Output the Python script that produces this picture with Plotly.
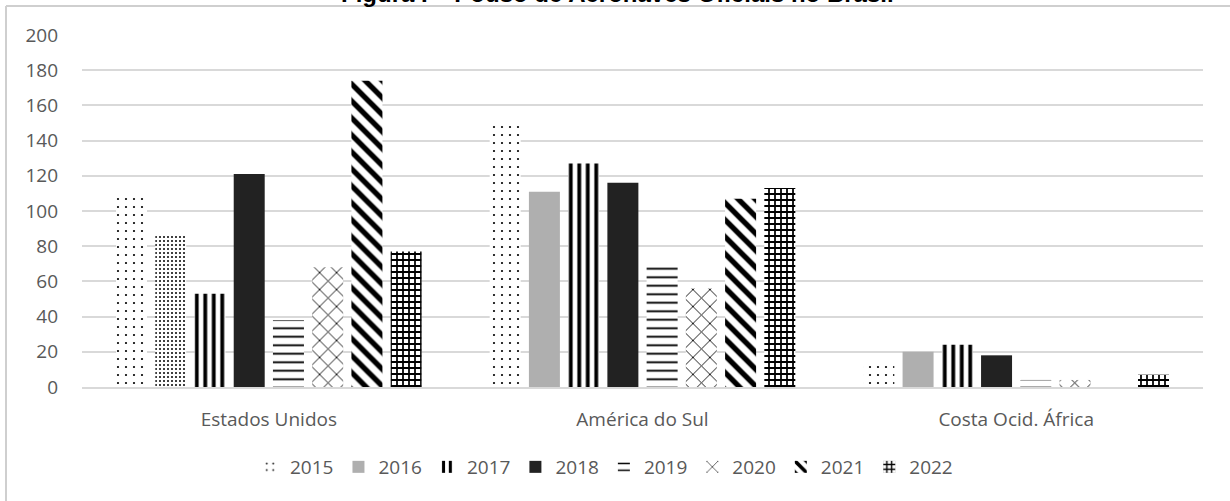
import plotly.graph_objects as go

categories = ["Estados Unidos", "América do Sul", "Costa Ocid. África"]
years = ["2015", "2016", "2017", "2018", "2019", "2020", "2021", "2022"]
v2015 = [110, 151, 15]
v2016 = [87, 111, 20]
v2017 = [53, 127, 24]
v2018 = [121, 116, 18]
v2019 = [38, 71, 4]
v2020 = [68, 56, 4]
v2021 = [174, 107, 0]
v2022 = [77, 113, 7]
values = [v2015, v2016, v2017, v2018, v2019, v2020, v2021, v2022]
# in the reference, the 2016 bar of "Estados Unidos" is dotted, the others solid grey
dotted_2016 = [True, False, False]

title_text = "Figura I – Pouso de Aeronaves Oficiais no Brasil"
y_ticks = [0, 20, 40, 60, 80, 100, 120, 140, 160, 180, 200]


def pat(shape, size, solidity, bg="white"):
    return dict(shape=shape, size=size, solidity=solidity, fgcolor="#000000",
                fgopacity=1, bgcolor=bg, fillmode="replace")


styles = {
    "2015": dict(color="white", pattern=pat(".", 8, 0.06)),
    "2016": dict(color="#afafaf", pattern=dict(shape="")),
    "2017": dict(color="white", pattern=pat("|", 8.5, 0.45)),
    "2018": dict(color="#222222", pattern=dict(shape="")),
    "2019": dict(color="white", pattern=pat("-", 8.5, 0.22)),
    "2020": dict(color="white", pattern=pat("x", 12, 0.14)),
    "2021": dict(color="white", pattern=pat("\\", 12, 0.45)),
    "2022": dict(color="white", pattern=pat("+", 6, 0.5)),
}

W, H = 1230, 501
ml, mr, mt, mb = 82, 27, 35, 114
pw, ph = W - ml - mr, H - mt - mb

fig = go.Figure()
for yr, vals in zip(years, values):
    st = styles[yr]
    if yr == "2016":
        fig.add_trace(go.Bar(
            name=yr, x=categories, y=[v if not d else None for v, d in zip(vals, dotted_2016)],
            offsetgroup=yr, legendgroup=yr,
            marker=dict(color=st["color"], pattern=st["pattern"], line=dict(width=0)),
        ))
        fig.add_trace(go.Bar(
            name=yr, x=categories, y=[v if d else None for v, d in zip(vals, dotted_2016)],
            offsetgroup=yr, legendgroup=yr, showlegend=False,
            marker=dict(color="white", pattern=pat(".", 4, 0.2), line=dict(width=0)),
        ))
    else:
        fig.add_trace(go.Bar(
            name=yr, x=categories, y=vals, offsetgroup=yr,
            marker=dict(color=st["color"], pattern=st["pattern"], line=dict(width=0)),
        ))

font_family = "Open Sans, Lato, sans-serif"
txt_color = "#595959"

fx = (6 - ml) / pw
fy = (H - mb - 6) / ph

fig.update_layout(
    width=W, height=H,
    margin=dict(l=ml, r=mr, t=mt, b=mb),
    paper_bgcolor="white", plot_bgcolor="white",
    barmode="group", bargap=0.16, bargroupgap=0.21,
    font=dict(family=font_family, size=19, color=txt_color),
    showlegend=True,
    legend=dict(orientation="h", x=(604 - ml) / pw, xanchor="center", y=(0 - (467 - (H - mb))) / ph,
                yanchor="middle", itemwidth=30, font=dict(size=19, color=txt_color),
                traceorder="normal", bgcolor="rgba(0,0,0,0)"),
    xaxis=dict(showgrid=False, showline=True, linecolor="#d9d9d9", linewidth=1.5,
               ticks="", tickfont=dict(size=19, color=txt_color), ticklabelstandoff=14),
    yaxis=dict(range=[0, 200], tickvals=y_ticks, showgrid=True, gridcolor="#d9d9d9",
               gridwidth=1.5, zeroline=False, showline=False, ticks="",
               tickfont=dict(size=19, color=txt_color), ticklabelstandoff=23),
    shapes=[
        dict(type="line", xref="paper", yref="paper", x0=fx, x1=fx, y0=fy, y1=-0.4,
             line=dict(color="#cfcfcf", width=2), layer="above"),
        dict(type="line", xref="paper", yref="paper", x0=fx, x1=1.05, y0=fy, y1=fy,
             line=dict(color="#cfcfcf", width=2), layer="above"),
    ],
    annotations=[dict(text="<b>" + title_text + "</b>", xref="paper", yref="paper",
                      x=(617 - ml) / pw, y=1, xanchor="center", yanchor="middle", yshift=41.5,
                      showarrow=False, font=dict(family="Liberation Sans, Arial", size=24, color="black"))],
)

fig.write_html("out.html")
